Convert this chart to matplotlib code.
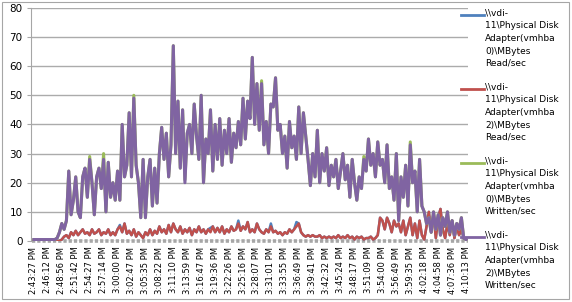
import numpy as np
import matplotlib.pyplot as plt
from matplotlib.lines import Line2D
from matplotlib.patches import Rectangle

# time labels shown on the category axis (one every 6 samples)
time_labels = ["2:43:27 PM", "2:46:12 PM", "2:48:56 PM", "2:51:42 PM", "2:54:27 PM",
               "2:57:14 PM", "3:00:00 PM", "3:02:47 PM", "3:05:35 PM", "3:08:22 PM",
               "3:11:10 PM", "3:13:59 PM", "3:16:47 PM", "3:19:36 PM", "3:22:26 PM",
               "3:25:16 PM", "3:28:07 PM", "3:31:01 PM", "3:33:55 PM", "3:36:49 PM",
               "3:39:41 PM", "3:42:32 PM", "3:45:24 PM", "3:48:17 PM", "3:51:09 PM",
               "3:54:00 PM", "3:56:49 PM", "3:59:35 PM", "4:02:18 PM", "4:04:58 PM",
               "4:07:36 PM", "4:10:13 PM"]

# vmhba2 MBytes Written/sec
written2 = [0.5, 0.5, 0.5, 0.5, 0.5, 0.5, 0.5, 0.5, 0.5, 0.5,
            1, 3, 6, 4, 7, 24, 9, 14, 22, 10,
            8, 22, 25, 15, 28, 20, 9, 22, 25, 18,
            28, 10, 27, 15, 20, 14, 24, 14, 40, 22,
            26, 44, 22, 49, 26, 20, 8, 28, 8, 22,
            28, 12, 25, 13, 30, 39, 28, 37, 22, 33,
            67, 30, 48, 25, 45, 20, 37, 40, 30, 47,
            36, 28, 50, 20, 35, 30, 45, 24, 40, 28,
            42, 26, 38, 30, 42, 27, 37, 32, 41, 33,
            49, 35, 48, 42, 63, 40, 54, 38, 54, 33,
            41, 30, 47, 46, 56, 38, 40, 30, 36, 25,
            41, 32, 36, 28, 46, 30, 44, 36, 28, 19,
            30, 22, 38, 20, 30, 24, 32, 19, 26, 22,
            28, 18, 24, 30, 21, 26, 15, 28, 20, 14,
            22, 18, 28, 24, 35, 26, 30, 22, 34, 26,
            28, 20, 33, 18, 22, 14, 30, 7, 22, 15,
            26, 12, 33, 20, 24, 10, 28, 12, 10, 6,
            8, 3, 10, 4, 9, 2, 8, 5, 10, 3,
            7, 2, 6, 4, 8, 1, 0.5]

# vmhba2 MBytes Read/sec
read2 = [0, 0, 0, 0, 0, 0, 0, 0, 0, 0,
         0, 0, 0.5, 1.5, 2, 1, 3, 2, 3.5, 2,
         3, 4, 2.5, 3, 2, 4, 2.5, 3, 4, 2,
         3, 2.5, 4, 2, 3, 2, 4, 5, 3, 6,
         2.5, 3.5, 2, 4, 1.5, 3, 2, 1, 3, 2,
         4, 2, 3.5, 2.5, 5, 3, 4, 2.5, 5.5, 3,
         6, 4, 3, 5, 2.5, 4, 3, 4.5, 2, 4,
         3, 5, 3, 4, 2.5, 4, 3, 5, 3, 4.5,
         3, 5, 2.5, 4, 3, 5, 3.5, 4, 6, 3.5,
         5, 4, 6.5, 3, 4, 3, 6, 4, 3, 2.5,
         4, 3, 5, 3, 3.5, 2.5, 3, 2, 3, 2.5,
         4, 3, 4, 5, 6, 3, 2, 1.5, 2, 1.5,
         2, 1.5, 1.5, 2, 1, 1.5, 1, 1.5, 1, 1.5,
         1, 2, 1, 1.5, 1, 2, 1, 1.5, 0.5, 1.5,
         1, 1.5, 0.5, 1, 1, 1.5, 0.5, 1, 2, 8,
         7, 4, 8, 6, 3, 7, 5, 6, 3, 7,
         2, 5, 8, 2, 6, 1, 7, 2, 0.5, 5,
         10, 3, 9, 1, 8, 11, 4, 1, 6, 2,
         7, 1, 5, 2, 4, 1, 0.5]

# samples where the vmhba0 series peek out from under the vmhba2 ones
read0_diff = {37: 5.5, 76: 4.5, 88: 7, 102: 6, 113: 6.5, 172: 9.5}
written0_diff = {24: 29, 30: 30, 43: 50, 65: 21, 98: 55, 142: 29, 162: 34}

read0 = [read0_diff.get(i, v) for i, v in enumerate(read2)]
written0 = [written0_diff.get(i, v) for i, v in enumerate(written2)]

series = [
    (read0, "#4F81BD", 1.8, "\\\\vdi-\n11\\Physical Disk\nAdapter(vmhba\n0)\\MBytes\nRead/sec"),
    (read2, "#C0504D", 1.8, "\\\\vdi-\n11\\Physical Disk\nAdapter(vmhba\n2)\\MBytes\nRead/sec"),
    (written0, "#9BBB59", 2.2, "\\\\vdi-\n11\\Physical Disk\nAdapter(vmhba\n0)\\MBytes\nWritten/sec"),
    (written2, "#8064A2", 2.2, "\\\\vdi-\n11\\Physical Disk\nAdapter(vmhba\n2)\\MBytes\nWritten/sec"),
]

fig = plt.figure(figsize=(5.72, 3.02), dpi=100)
ax = fig.add_axes([0.054, 0.202, 0.764, 0.772])

x = np.arange(len(written2))
for vals, col, lw, _ in series:
    ax.plot(x, vals, color=col, lw=lw, zorder=3)

# grey category tick squares along the base line
ax.plot([x[0] - 1, x[-1] + 1], [0, 0], color="#A6A6A6", lw=2.6,
        linestyle=(0, (0.9, 0.55)), solid_capstyle="butt", zorder=2, clip_on=False)

ax.set_xlim(-1.3, len(written2) - 0.2)
ax.set_ylim(0, 80)
ax.set_yticks(range(0, 81, 10))
ax.yaxis.grid(True, color="#ABABAB", lw=1)
ax.set_axisbelow(True)
ax.set_xticks(np.arange(len(time_labels)) * 6)
ax.set_xticklabels(time_labels, rotation=90, fontsize=6)
ax.tick_params(axis="x", length=0, pad=4)
ax.tick_params(axis="y", labelsize=7.5, length=3, color="#A6A6A6", pad=3)
for s in ["top", "right", "bottom"]:
    ax.spines[s].set_visible(False)
ax.spines["left"].set_color("#A6A6A6")

# legend on the right, drawn in figure pixels
W, H = 572, 302
for k, (vals, col, lw, label) in enumerate(series):
    yl = 15 + k * 74
    fig.add_artist(Line2D([461 / W, 484 / W], [1 - yl / H, 1 - yl / H], color=col, lw=2))
    fig.text(485 / W, 1 - (yl - 6) / H, label, fontsize=6.5, va="top", ha="left",
             linespacing=1.5)

fig.add_artist(Rectangle((2 / W, 3 / H), 567 / W, 297 / H, fill=False,
                         edgecolor="#A6A6A6", lw=0.8))

fig.savefig("out.png", dpi=100)
